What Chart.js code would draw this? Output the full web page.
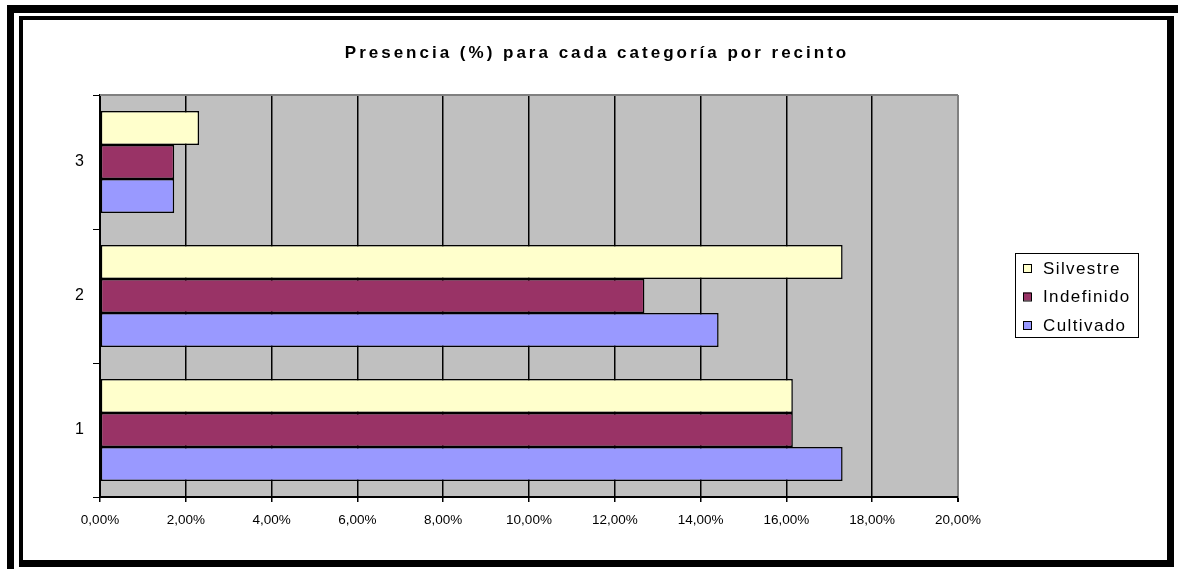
<!DOCTYPE html>
<html>
<head>
<meta charset="utf-8">
<title>Presencia (%) para cada categoría por recinto</title>
<script src="https://cdn.jsdelivr.net/npm/chart.js@4.4.0/dist/chart.umd.min.js"></script>
<style>
    html, body { margin: 0; padding: 0; background: #fff; }
    body { width: 1178px; height: 569px; position: relative; overflow: hidden; }
    .outer {
        position: absolute; left: 7px; top: 5px; right: 0; bottom: 0;
        border-left: 7px solid #000; border-top: 8px solid #000;
    }
    .frame {
        position: absolute; left: 19px; top: 16px; width: 1144px; height: 540px;
        border-style: solid; border-color: #000; border-width: 4px 7px 7px 4px;
        background: #fff;
    }
    .frame canvas { display: block; }
</style>
</head>
<body>
<div class="outer"></div>
<div class="frame"><canvas id="presenceChart" width="1144" height="540"></canvas></div>

<script>
// Chart data (percent values per recinto)
const chartTitle = 'Presencia (%) para cada categoría por recinto';
const recintos = ['1', '2', '3'];
const silvestre = [16.15, 17.31, 2.31];
const indefinido = [16.15, 12.69, 1.73];
const cultivado = [17.31, 14.42, 1.73];
const xMin = 0;
const xMax = 20;
const xStep = 2;

const FONT = '"Liberation Sans", Arial, sans-serif';

/**
 * Grey plot area with grey top border, like the old Excel chart
 */
const plotBackground = {
    id: 'plotBackground',
    beforeDraw(chart) {
        const { ctx, chartArea: a } = chart;
        ctx.save();
        ctx.fillStyle = '#C0C0C0';
        ctx.fillRect(a.left, a.top, a.right - a.left, a.bottom - a.top);
        ctx.restore();
    },
    beforeDatasetsDraw(chart) {
        const { ctx, chartArea: a } = chart;
        ctx.save();
        ctx.strokeStyle = '#808080';
        ctx.lineWidth = 2;
        ctx.beginPath();
        ctx.moveTo(a.left, a.top);
        ctx.lineTo(a.right, a.top);
        ctx.stroke();
        ctx.restore();
    }
};

/**
 * Title centred on the whole canvas and a boxed legend on the right
 */
const titleAndLegend = {
    id: 'titleAndLegend',
    afterDraw(chart) {
        const ctx = chart.ctx;
        ctx.save();
        ctx.fillStyle = '#000';
        ctx.font = 'bold 17px ' + FONT;
        ctx.letterSpacing = '3px';
        ctx.textAlign = 'center';
        ctx.textBaseline = 'middle';
        ctx.fillText(chartTitle, chart.width / 2 + 2, 33);

        // legend box
        ctx.letterSpacing = '0px';
        ctx.strokeStyle = '#000';
        ctx.lineWidth = 1;
        ctx.strokeRect(992.5, 233.5, 123, 84);

        ctx.font = '17px ' + FONT;
        ctx.letterSpacing = '1.4px';
        ctx.textAlign = 'left';
        chart.data.datasets.forEach((ds, i) => {
            const cy = 248 + i * 28.5;
            ctx.fillStyle = ds.backgroundColor;
            ctx.fillRect(1000, cy - 4, 8, 8);
            ctx.strokeRect(1000.5, cy - 3.5, 8, 8);
            ctx.fillStyle = '#000';
            ctx.fillText(ds.label, 1020, cy + 1);
        });
        ctx.restore();
    }
};

function initPresenceChart() {
    const ctx = document.getElementById('presenceChart').getContext('2d');

    new Chart(ctx, {
        type: 'bar',
        data: {
            labels: recintos,
            datasets: [
                { label: 'Silvestre', data: silvestre, backgroundColor: '#FFFFCC' },
                { label: 'Indefinido', data: indefinido, backgroundColor: '#993366' },
                { label: 'Cultivado', data: cultivado, backgroundColor: '#9999FF' }
            ]
        },
        options: {
            indexAxis: 'y',
            responsive: false,
            animation: false,
            layout: {
                padding: { top: 75, right: 209, bottom: 0, left: 0 }
            },
            datasets: {
                bar: {
                    categoryPercentage: 0.76,
                    barPercentage: 1.0,
                    borderColor: '#000',
                    borderWidth: 1.5,
                    borderSkipped: false
                }
            },
            plugins: {
                legend: { display: false },
                title: { display: false },
                tooltip: { enabled: false }
            },
            scales: {
                x: {
                    min: xMin,
                    max: xMax,
                    afterFit: function(scale) { scale.height = 63; },
                    border: { color: '#000', width: 2 },
                    grid: {
                        color: function(c) {
                            return c.tick && c.tick.value === xMax ? '#808080' : '#000';
                        },
                        lineWidth: function(c) {
                            return c.tick && c.tick.value === xMax ? 2 : 1.5;
                        },
                        tickColor: '#000',
                        tickLength: 5
                    },
                    ticks: {
                        stepSize: xStep,
                        autoSkip: false,
                        maxRotation: 0,
                        padding: 10,
                        color: '#000',
                        font: { family: FONT, size: 13.5 },
                        callback: function(value) {
                            return value.toFixed(2).replace('.', ',') + '%';
                        }
                    }
                },
                y: {
                    reverse: true,
                    afterFit: function(scale) { scale.width = 77; },
                    border: { color: '#000', width: 2 },
                    grid: {
                        offset: true,
                        drawOnChartArea: false,
                        color: '#000',
                        tickLength: 7
                    },
                    ticks: {
                        padding: 9,
                        color: '#000',
                        font: { family: FONT, size: 16 }
                    }
                }
            }
        },
        plugins: [plotBackground, titleAndLegend]
    });
}

document.addEventListener('DOMContentLoaded', initPresenceChart);
</script>
</body>
</html>
